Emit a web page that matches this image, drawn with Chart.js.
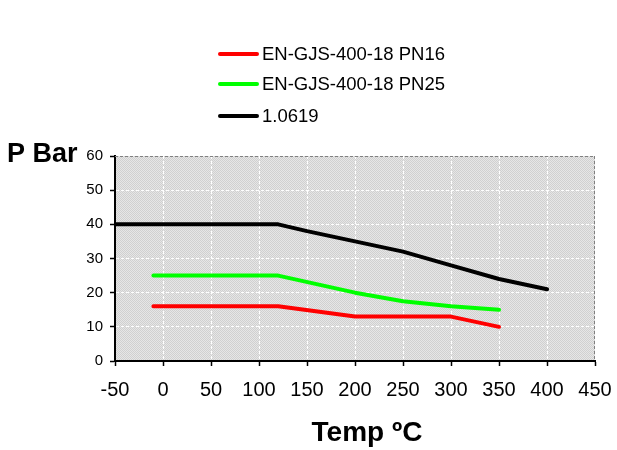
<!DOCTYPE html>
<html>
<head>
<meta charset="utf-8">
<script src="https://cdn.jsdelivr.net/npm/chart.js@4.4.0/dist/chart.umd.min.js"></script>
<style>
html,body{margin:0;padding:0;background:#fff;}
canvas{display:block;}
</style>
</head>
<body>
<canvas id="c" width="617" height="450"></canvas>
<script>
// ---- data ----
const seriesLabels = ['EN-GJS-400-18 PN16', 'EN-GJS-400-18 PN25', '1.0619'];
const tempPN16 = [-10, 120, 200, 300, 350];
const presPN16 = [16, 16, 13, 13, 10];
const tempPN25 = [-10, 120, 200, 250, 300, 350];
const presPN25 = [25, 25, 20, 17.5, 16, 15];
const tempSteel = [-50, 120, 150, 200, 250, 300, 350, 400];
const presSteel = [40, 40, 38, 35, 32, 28, 24, 21];
const xTitle = 'Temp ºC';
const yTitle = 'P Bar';
const xMin = -50, xMax = 450, xStep = 50;
const yMin = 0, yMax = 60, yStep = 10;

const colors = ['#ff0000', '#00ff00', '#000000'];

function pts(xs, ys) { return xs.map((x, i) => ({x: x, y: ys[i]})); }

// dotted background pattern
function makePattern(ctx) {
  const pc = document.createElement('canvas');
  pc.width = 2; pc.height = 2;
  const p = pc.getContext('2d');
  p.fillStyle = '#e6e6e6'; p.fillRect(0, 0, 2, 2);
  p.fillStyle = '#d0d0d0'; p.fillRect(0, 0, 1, 1); p.fillRect(1, 1, 1, 1);
  return ctx.createPattern(pc, 'repeat');
}

const bgPlugin = {
  id: 'bgPlugin',
  beforeDraw(chart) {
    const {ctx, chartArea: a} = chart;
    ctx.save();
    ctx.fillStyle = makePattern(ctx);
    ctx.fillRect(a.left, a.top, a.right - a.left, a.bottom - a.top);
    ctx.restore();
  },
  afterDraw(chart) {
    const {ctx, chartArea: a} = chart;
    ctx.save();
    // top & right dashed frame
    ctx.strokeStyle = '#808080';
    ctx.lineWidth = 1;
    ctx.setLineDash([3, 2]);
    ctx.beginPath();
    ctx.moveTo(a.left, a.top + 0.5); ctx.lineTo(a.right, a.top + 0.5);
    ctx.moveTo(a.right - 0.5, a.top); ctx.lineTo(a.right - 0.5, a.bottom);
    ctx.stroke();
    ctx.setLineDash([]);
    // axis titles
    ctx.fillStyle = '#000';
    ctx.font = 'bold 27px "Liberation Sans", Arial, sans-serif';
    ctx.textAlign = 'left';
    ctx.textBaseline = 'alphabetic';
    ctx.fillText(yTitle, 7, 162);
    ctx.font = 'bold 28px "Liberation Sans", Arial, sans-serif';
    ctx.textAlign = 'center';
    ctx.fillText(xTitle, 367, 441);
    // legend
    const ly = [54, 84, 116];
    ctx.font = '18.5px "Liberation Sans", Arial, sans-serif';
    ctx.textAlign = 'left';
    ctx.textBaseline = 'middle';
    chart.data.datasets.forEach((ds, i) => {
      ctx.strokeStyle = ds.borderColor;
      ctx.lineWidth = 4;
      ctx.lineCap = 'round';
      ctx.beginPath();
      ctx.moveTo(220, ly[i]); ctx.lineTo(257, ly[i]);
      ctx.stroke();
      ctx.fillStyle = '#000';
      ctx.fillText(ds.label, 262, ly[i] + 1);
    });
    ctx.restore();
  }
};

new Chart(document.getElementById('c'), {
  type: 'scatter',
  data: {
    datasets: [
      {label: seriesLabels[0], data: pts(tempPN16, presPN16), borderColor: colors[0]},
      {label: seriesLabels[1], data: pts(tempPN25, presPN25), borderColor: colors[1]},
      {label: seriesLabels[2], data: pts(tempSteel, presSteel), borderColor: colors[2]}
    ].map(d => Object.assign(d, {
      showLine: true, borderWidth: 4, pointRadius: 0, pointHoverRadius: 0,
      tension: 0, fill: false, borderJoinStyle: 'round', borderCapStyle: 'round',
      backgroundColor: d.borderColor
    }))
  },
  options: {
    responsive: false,
    animation: false,
    events: [],
    layout: {padding: {top: 156, right: 22, left: 0, bottom: 0}},
    plugins: {legend: {display: false}, tooltip: {enabled: false}},
    scales: {
      x: {
        type: 'linear', min: xMin, max: xMax,
        afterFit(s) { s.height = 89; s.paddingLeft = 0; s.paddingRight = 0; },
        ticks: {stepSize: xStep, color: '#000', padding: 12,
          font: {size: 20, family: '"Liberation Sans", Arial, sans-serif'}},
        grid: {
          color: (c) => (c.tick && (c.tick.value === xMin || c.tick.value === xMax)) ? 'rgba(0,0,0,0)' : '#ffffff',
          lineWidth: 1, drawTicks: true, tickLength: 5, tickColor: '#000', tickWidth: 1.5
        },
        border: {display: true, color: '#000', width: 2, dash: [3, 2]}
      },
      y: {
        type: 'linear', min: yMin, max: yMax,
        afterFit(s) { s.width = 115; s.paddingTop = 0; s.paddingBottom = 0; },
        ticks: {stepSize: yStep, color: '#000', padding: 7,
          font: {size: 15, family: '"Liberation Sans", Arial, sans-serif'}},
        grid: {
          color: (c) => (c.tick && (c.tick.value === yMin || c.tick.value === yMax)) ? 'rgba(0,0,0,0)' : '#ffffff',
          lineWidth: 1, drawTicks: true, tickLength: 5, tickColor: '#000', tickWidth: 1.5
        },
        border: {display: true, color: '#000', width: 2, dash: [3, 2]}
      }
    }
  },
  plugins: [bgPlugin]
});
</script>
</body>
</html>
